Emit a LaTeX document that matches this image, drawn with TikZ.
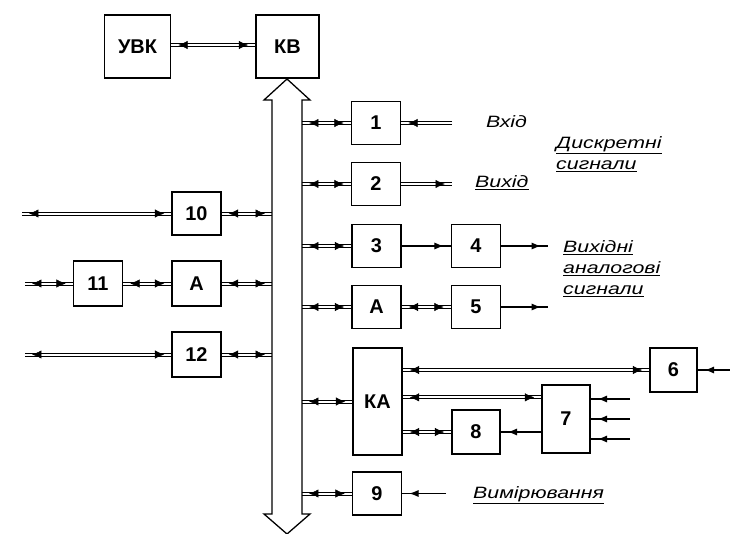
\documentclass[tikz,border=0pt]{standalone}
\usepackage{fontspec}
\setmainfont{Liberation Sans}
\newfontfamily\labfont[FakeStretch=1.3]{Liberation Sans}
\usetikzlibrary{arrows.meta,positioning,calc,decorations.markings}

\begin{document}
\begin{tikzpicture}[
    x=0.03cm, y=-0.03cm,
    blk/.style={rectangle, draw, line width=1.1pt, minimum width=1.47cm,
                minimum height=1.29cm, inner sep=0pt,
                font=\fontsize{17}{17}\selectfont\bfseries},
    dbl/.style={preaction={draw, line width=0.8pt, transform canvas={yshift=1.3pt}},
                preaction={draw, line width=0.8pt, transform canvas={yshift=-1.3pt}}},
    two/.style={dbl, postaction={decorate, decoration={markings,
                mark=at position 6pt with {\arrowreversed{Latex[length=8pt,width=7pt]}},
                mark=at position -6pt with {\arrow{Latex[length=8pt,width=7pt]}}}}},
    one/.style={dbl, postaction={decorate, decoration={markings,
                mark=at position -6pt with {\arrow{Latex[length=8pt,width=7pt]}}}}},
    sig/.style={draw, line width=0.9pt, postaction={decorate, decoration={markings,
                mark=at position -6pt with {\arrow{Latex[length=8pt,width=6pt]}}}}},
    lab/.style={font=\labfont\fontsize{14}{18}\selectfont\itshape,
                align=left, anchor=west, inner sep=0pt}
]
\useasboundingbox (0,0) rectangle (730,534);

% bus
\draw[line width=1.1pt, fill=white] (287,79) -- (310,100) -- (302,100) -- (302,514)
    -- (310,514) -- (287,534) -- (264,514) -- (272,514) -- (272,100) -- (264,100) -- cycle;
\coordinate (busL) at (272,300);
\coordinate (busR) at (302,300);

\node[blk, minimum width=1.98cm, minimum height=1.89cm] (uvk) at (137.5,46.5) {УВК};
\node[blk, minimum width=1.89cm, minimum height=1.89cm] (kv) at (287.5,46.5) {КВ};

\node[blk] (b1) at (376,123) {1};
\node[blk] (b2) at (376,184) {2};
\node[blk] (b3) at (376.5,246) {3};
\node[blk] (b4) at (476,246) {4};
\node[blk] (aR) at (376.5,307) {А};
\node[blk] (b5) at (476,307) {5};
\node[blk, minimum height=3.21cm] (ka) at (377.5,401.5) {КА};
\node[blk, minimum width=1.41cm, minimum height=1.32cm] (b6) at (673.5,370) {6};
\node[blk, minimum width=1.44cm, minimum height=2.04cm] (b7) at (566,419) {7};
\node[blk, minimum width=1.44cm, minimum height=1.32cm] (b8) at (476,432) {8};
\node[blk] (b9) at (377,493.5) {9};

\node[blk] (b10) at (196.5,213.5) {10};
\node[blk, minimum height=1.35cm] (b11) at (98,283.5) {11};
\node[blk, minimum height=1.35cm] (aL) at (196.5,283.5) {А};
\node[blk, minimum height=1.35cm] (b12) at (196.5,354.5) {12};

\coordinate (i1) at (452,123);
\coordinate (o2) at (452,184);
\coordinate (o4) at (548,246);
\coordinate (o5) at (548,307);
\coordinate (i6) at (730,370);
\coordinate (i7a) at (630,399);
\coordinate (i7b) at (630,419);
\coordinate (i7c) at (630,439);
\coordinate (i9) at (446,493.5);
\coordinate (l10) at (22,213.5);
\coordinate (l11) at (25,283.5);
\coordinate (l12) at (25,354.5);
\coordinate (k7) at ([yshift=-0.39cm]b7.north west);

\path[two] (uvk.east |- 0,45) -- (kv.west |- 0,45);

\path[two] (busR |- b1.west) -- (b1.west);
\path[two] (busR |- b2.west) -- (b2.west);
\path[two] (busR |- b3.west) -- (b3.west);
\path[two] (busR |- aR.west) -- (aR.west);
\path[two] (busR |- ka.west) -- (ka.west);
\path[two] (busR |- b9.west) -- (b9.west);
\path[two] (b10.east) -- (busL |- b10.east);
\path[two] (aL.east) -- (busL |- aL.east);
\path[two] (b12.east) -- (busL |- b12.east);

\path[one] (i1) -- (b1.east);
\path[one] (b2.east) -- (o2);
\draw[sig] (b3) -- (b4);
\draw[sig] (b4) -- (o4);
\path[two] (aR) -- (b5);
\draw[sig] (b5) -- (o5);
\path[two] (ka.east |- b6.west) -- (b6.west);
\path[two] (ka.east |- k7) -- (k7);
\path[two] (ka.east |- b8.west) -- (b8.west);
\draw[sig] (b7.west |- b8.east) -- (b8.east);
\draw[sig] (i6) -- (b6.east);
\draw[sig] (i7a) -- (b7.east |- i7a);
\draw[sig] (i7b) -- (b7.east |- i7b);
\draw[sig] (i7c) -- (b7.east |- i7c);
\draw[sig] (i9) -- (b9.east);

\path[two] (b10.west) -- (l10);
\path[two] (aL.west) -- (b11.east);
\path[two] (b11.west) -- (l11);
\path[two] (b12.west) -- (l12);

\node[lab] (tin) at (486,122) {Вхід};
\node[lab] (tdis) at (556,154) {\underline{Дискретні}\\\underline{сигнали}};
\node[lab] (tout) at (475,183) {\underline{Вихід}};
\node[lab] (tan) at (563,269) {\underline{Вихідні}\\\underline{аналогові}\\\underline{сигнали}};
\node[lab] (tmes) at (473,495) {\underline{Вимірювання}};
\end{tikzpicture}
\end{document}
